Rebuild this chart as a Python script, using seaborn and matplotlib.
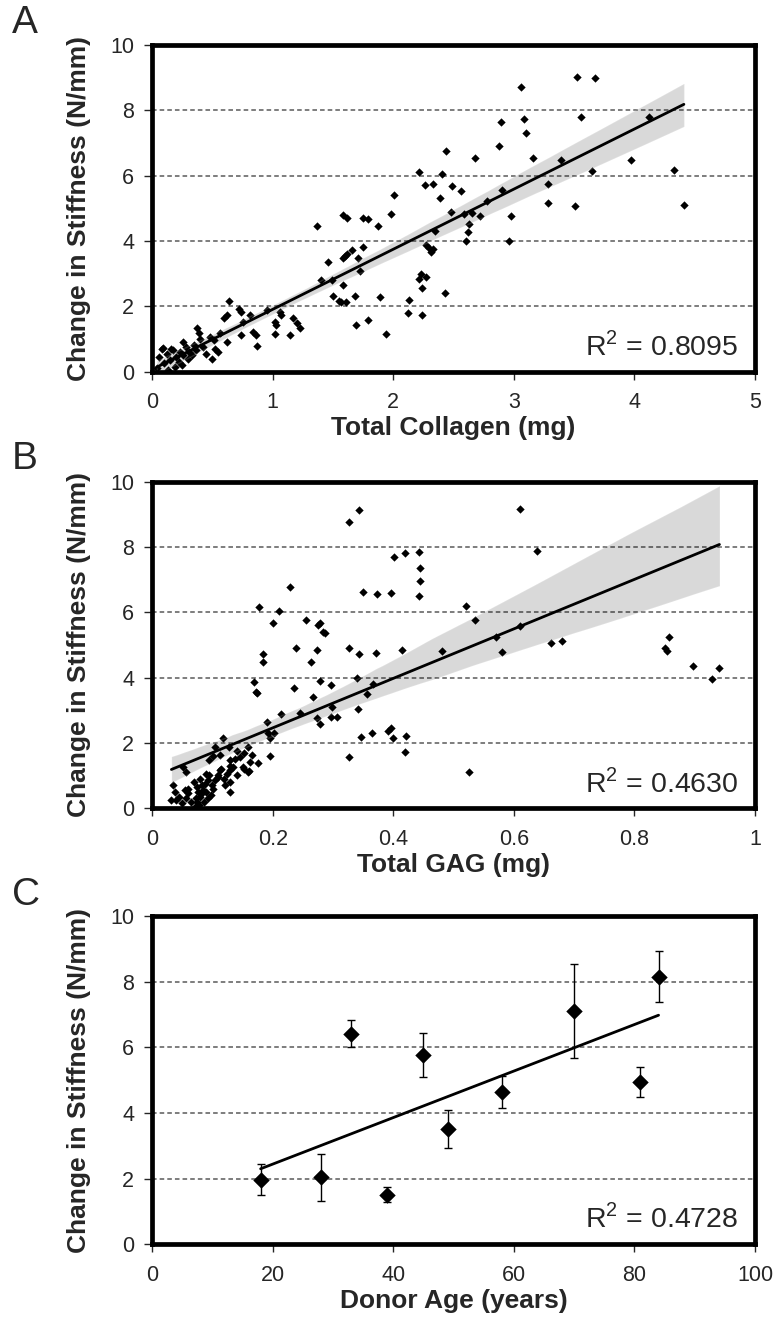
import numpy as np
import pandas as pd
import matplotlib
matplotlib.use('Agg')
import matplotlib.pyplot as plt
import seaborn as sns

# Panel A: total collagen (mg) vs change in stiffness (N/mm)
collagen_x = [0.04, 0.06, 0.08, 0.10, 0.12, 0.13, 0.15, 0.17, 0.19, 0.20, 0.22, 0.23, 0.25, 0.26,
              0.28, 0.30, 0.31, 0.33, 0.35, 0.36, 0.42, 0.45, 0.50, 0.52, 0.55, 0.09, 0.16, 0.26,
              0.37, 0.39, 0.40, 0.48, 0.51, 0.56, 0.60, 0.62, 0.64, 0.62, 0.72, 0.74, 0.74, 0.75,
              0.81, 0.84, 0.86, 0.87, 0.95, 1.02, 1.03, 1.02, 1.06, 1.07, 1.14, 1.17, 1.20, 1.23,
              1.37, 1.40, 1.46, 1.49, 1.50, 1.55, 1.58, 1.58, 1.58, 1.62,
              2.44, 2.68, 2.88, 2.21, 2.40, 2.26, 2.33, 2.49, 2.56, 2.01, 2.39, 1.98, 1.62, 1.75,
              1.79, 1.87, 2.48, 2.59, 2.65, 2.72, 2.78, 2.90, 2.98, 2.63, 2.62, 2.60, 2.96, 2.35,
              2.27, 2.30, 2.33, 2.31, 1.60, 1.66, 1.75, 1.71, 1.72, 1.57, 1.61, 1.68, 1.89, 1.69,
              1.79, 1.94, 2.13, 2.12, 2.24, 2.24, 2.21, 2.27, 2.23, 2.43,
              3.52, 3.67, 3.06, 2.89, 3.08, 3.10, 3.56, 3.16, 3.39, 4.12, 3.97, 3.65, 4.33, 3.28,
              3.28, 3.51, 4.41]
collagen_y = [0.10, 0.45, 0.70, 0.25, 0.55, 0.05, 0.35, 0.65, 0.15, 0.45, 0.30, 0.60, 0.20, 0.50,
              0.75, 0.40, 0.60, 0.50, 0.80, 0.65, 0.75, 0.55, 0.40, 0.70, 0.60, 0.72, 0.69, 0.90,
              1.32, 1.17, 1.00, 1.07, 0.97, 1.17, 1.63, 1.73, 2.16, 0.92, 1.93, 1.83, 1.12, 1.52,
              1.73, 1.22, 1.12, 0.79, 1.88, 1.52, 1.42, 1.15, 1.83, 1.73, 1.12, 1.63, 1.48, 1.32,
              4.45, 2.79, 3.37, 2.79, 2.30, 2.15, 2.64, 3.49, 4.79, 3.60,
              6.76, 6.55, 6.91, 6.10, 6.04, 5.70, 5.75, 5.67, 5.53, 5.41, 5.31, 4.83, 4.69, 4.71,
              4.68, 4.45, 4.88, 4.83, 4.86, 4.76, 5.21, 5.57, 4.76, 4.52, 4.28, 4.00, 4.00, 4.32,
              3.88, 3.80, 3.75, 3.65, 3.55, 3.72, 3.82, 3.49, 3.09, 2.13, 2.13, 2.30, 2.28, 1.42,
              1.58, 1.14, 2.18, 1.78, 1.73, 2.55, 2.84, 2.89, 2.99, 2.40,
              9.02, 9.00, 8.72, 7.64, 7.74, 7.30, 7.79, 6.55, 6.47, 7.79, 6.47, 6.14, 6.17, 5.74,
              5.16, 5.06, 5.09]

# Panel B: total GAG (mg) vs change in stiffness (N/mm)
gag_x = [0.177, 0.211, 0.200, 0.256, 0.278, 0.284, 0.238, 0.184, 0.184, 0.273, 0.264, 0.169, 0.172,
         0.174, 0.235, 0.267, 0.278, 0.273, 0.279, 0.213, 0.191, 0.245, 0.203, 0.195, 0.195, 0.117,
         0.128, 0.104, 0.101, 0.095, 0.112, 0.129, 0.141, 0.145, 0.152, 0.159, 0.162, 0.166, 0.176,
         0.152, 0.159, 0.137, 0.134, 0.129, 0.112, 0.051, 0.056, 0.090, 0.093, 0.082, 0.085, 0.076,
         0.079, 0.074, 0.071, 0.035, 0.038, 0.032, 0.040, 0.060, 0.057, 0.109, 0.129, 0.129, 0.101,
         0.098, 0.093, 0.121,
         0.045, 0.050, 0.055, 0.060, 0.065, 0.070, 0.072, 0.075, 0.078, 0.080, 0.083, 0.086, 0.088,
         0.090, 0.095, 0.100, 0.105, 0.110, 0.115, 0.120, 0.125, 0.130, 0.140, 0.150, 0.160,
         0.228, 0.275, 0.297, 0.299, 0.297, 0.306, 0.327, 0.343, 0.371, 0.415, 0.480, 0.340, 0.357,
         0.366, 0.342, 0.327, 0.346, 0.365, 0.391, 0.399, 0.421, 0.419, 0.397, 0.327, 0.343, 0.349,
         0.373, 0.397, 0.401, 0.420, 0.443, 0.444, 0.444, 0.443, 0.192, 0.286,
         0.520, 0.535, 0.611, 0.639, 0.571, 0.581, 0.610, 0.661, 0.680, 0.857, 0.850, 0.854, 0.897,
         0.929, 0.941, 0.525]
gag_y = [6.16, 6.05, 5.68, 5.77, 5.67, 5.41, 4.92, 4.72, 4.49, 4.83, 4.49, 3.87, 3.57,
         3.52, 3.67, 3.40, 3.90, 2.75, 2.58, 2.87, 2.65, 2.90, 2.31, 2.14, 1.60, 2.14,
         1.88, 1.88, 1.60, 1.49, 1.63, 1.48, 1.76, 1.57, 1.68, 1.88, 1.42, 1.63, 1.37,
         1.19, 1.11, 1.52, 1.27, 1.17, 1.17, 1.27, 1.11, 1.06, 0.86, 0.71, 0.55, 0.50,
         0.35, 0.19, 0.04, 0.71, 0.50, 0.25, 0.25, 0.60, 0.30, 1.01, 0.81, 0.50, 0.60,
         0.40, 0.30, 0.71,
         0.35, 0.15, 0.55, 0.45, 0.20, 0.80, 0.30, 0.65, 0.10, 0.90, 0.45, 0.20, 0.75,
         0.50, 1.00, 0.70, 0.85, 0.95, 1.20, 0.90, 1.05, 1.30, 1.00, 1.25, 1.15,
         6.77, 5.61, 3.77, 3.11, 2.78, 2.78, 4.90, 4.72, 4.74, 4.83, 4.80, 3.98, 3.50,
         3.80, 3.04, 1.56, 2.17, 2.31, 2.37, 2.14, 2.21, 1.73, 2.44, 8.78, 9.12, 6.62,
         6.56, 6.59, 7.69, 7.81, 7.84, 7.35, 6.96, 6.51, 2.29, 5.36,
         6.20, 5.77, 9.16, 7.88, 5.24, 4.78, 5.59, 5.07, 5.12, 5.24, 4.90, 4.80, 4.36,
         3.96, 4.29, 1.11]

# Panel C: donor age (years) vs mean change in stiffness, with error bars
age = [18, 28, 33, 39, 45, 49, 58, 70, 81, 84]
age_stiff = [1.96, 2.04, 6.42, 1.50, 5.77, 3.51, 4.64, 7.10, 4.95, 8.15]
age_err = [0.47, 0.72, 0.42, 0.23, 0.68, 0.57, 0.48, 1.43, 0.45, 0.78]

r2_labels = ['0.8095', '0.4630', '0.4728']
panel_letters = ['A', 'B', 'C']
x_labels = ['Total Collagen (mg)', 'Total GAG (mg)', 'Donor Age (years)']
y_label = 'Change in Stiffness (N/mm)'

sns.set_style('white')
plt.rcParams['font.family'] = ['Liberation Sans', 'DejaVu Sans']
plt.rcParams['mathtext.fontset'] = 'custom'
plt.rcParams['mathtext.rm'] = 'Liberation Sans'

fig = plt.figure(figsize=(7.8, 13.27), dpi=100)
ax_a = fig.add_axes([0.195, 0.720, 0.773, 0.246])
ax_b = fig.add_axes([0.195, 0.391, 0.773, 0.246])
ax_c = fig.add_axes([0.195, 0.0625, 0.773, 0.247])

df_a = pd.DataFrame({'collagen': collagen_x, 'stiffness': collagen_y})
df_b = pd.DataFrame({'gag': gag_x, 'stiffness': gag_y})
df_c = pd.DataFrame({'age': age, 'stiffness': age_stiff, 'err': age_err})

sns.regplot(data=df_a, x='collagen', y='stiffness', ax=ax_a, ci=95, marker='D',
            scatter_kws=dict(s=18, color='black', linewidths=0, alpha=1),
            line_kws=dict(color='black', lw=2))
sns.regplot(data=df_b, x='gag', y='stiffness', ax=ax_b, ci=95, marker='D',
            scatter_kws=dict(s=18, color='black', linewidths=0, alpha=1),
            line_kws=dict(color='black', lw=2))

# panel C: error bars + diamonds + fit line
ax_c.errorbar(df_c['age'], df_c['stiffness'], yerr=df_c['err'], fmt='none',
              ecolor='black', elinewidth=1, capsize=3, capthick=1)
sns.scatterplot(data=df_c, x='age', y='stiffness', ax=ax_c, marker='D', s=70,
                color='black', linewidth=0, zorder=3)
sns.regplot(data=df_c, x='age', y='stiffness', ax=ax_c, ci=None, scatter=False,
            line_kws=dict(color='black', lw=2))

xlims = [(0, 5), (0, 1), (0, 100)]
xticks = [np.arange(0, 6, 1), np.arange(0, 1.01, 0.2), np.arange(0, 101, 20)]
xticklabels = [['0', '1', '2', '3', '4', '5'],
               ['0', '0.2', '0.4', '0.6', '0.8', '1'],
               ['0', '20', '40', '60', '80', '100']]

for i, ax in enumerate([ax_a, ax_b, ax_c]):
    ax.set_xlim(*xlims[i])
    ax.set_ylim(0, 10)
    ax.set_xticks(xticks[i])
    ax.set_xticklabels(xticklabels[i])
    ax.set_yticks(np.arange(0, 11, 2))
    ax.set_yticklabels([str(v) for v in range(0, 11, 2)])
    for yv in [2, 4, 6, 8]:
        ax.axhline(yv, color='#5a5a5a', lw=1.1, ls=(0, (3, 2)), zorder=0)
    for sp in ax.spines.values():
        sp.set_linewidth(3.4)
        sp.set_color('black')
    ax.tick_params(axis='both', direction='out', length=6, width=1, labelsize=15.5,
                   bottom=True, left=True, top=False, right=False, pad=7)
    ax.tick_params(axis='x', pad=9)
    ax.set_xlabel(x_labels[i], fontsize=19, fontweight='bold', labelpad=2)
    ax.set_ylabel(y_label, fontsize=19, fontweight='bold', labelpad=14)
    ax.text(0.972, 0.05, r'R$^{\mathregular{2}}$ = ' + r2_labels[i], transform=ax.transAxes,
            ha='right', va='baseline', fontsize=20.5)

letter_y = [0.996, 0.668, 0.339]
for letter, ly in zip(panel_letters, letter_y):
    fig.text(0.015, ly, letter, fontsize=28, ha='left', va='top')

fig.savefig('out.png', dpi=100)
